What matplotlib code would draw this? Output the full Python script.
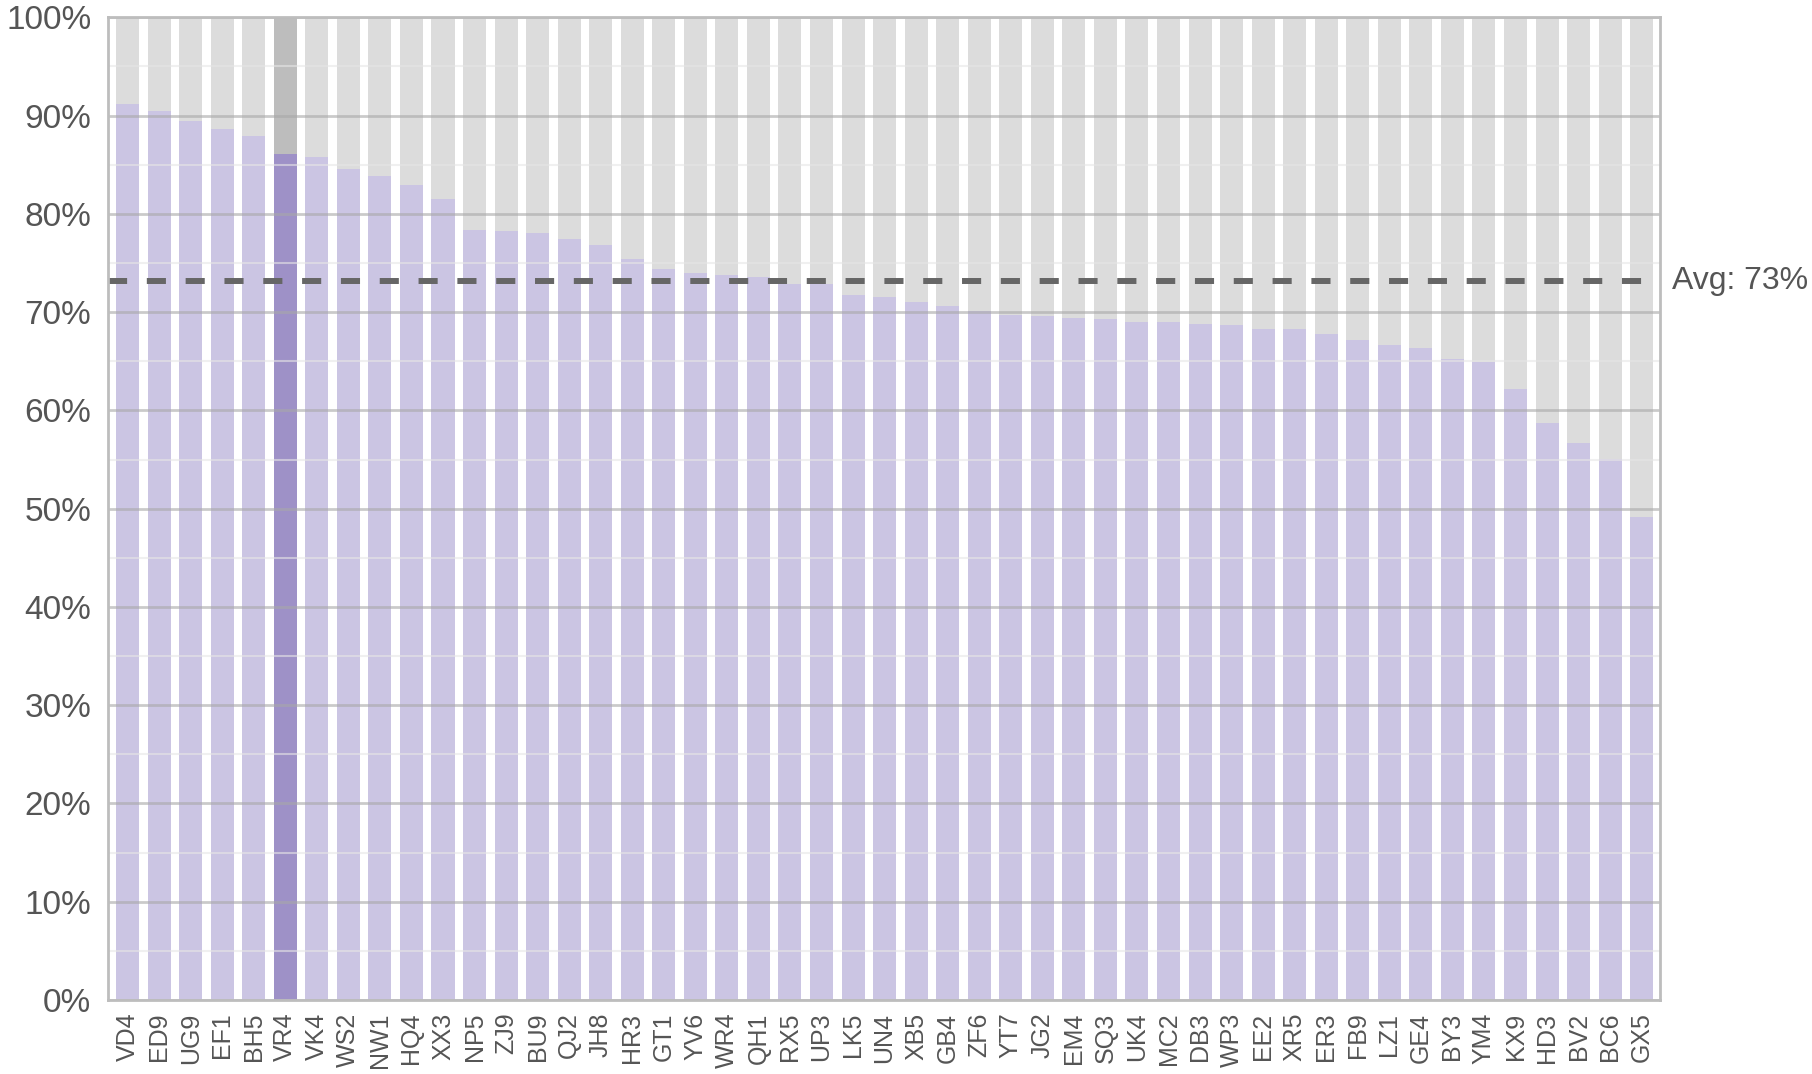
import numpy as np
import matplotlib
matplotlib.use('Agg')
import matplotlib.pyplot as plt
from matplotlib.ticker import MultipleLocator, FuncFormatter

codes = ['VD4', 'ED9', 'UG9', 'EF1', 'BH5', 'VR4', 'VK4', 'WS2', 'NW1', 'HQ4',
         'XX3', 'NP5', 'ZJ9', 'BU9', 'QJ2', 'JH8', 'HR3', 'GT1', 'YV6', 'WR4',
         'QH1', 'RX5', 'UP3', 'LK5', 'UN4', 'XB5', 'GB4', 'ZF6', 'YT7', 'JG2',
         'EM4', 'SQ3', 'UK4', 'MC2', 'DB3', 'WP3', 'EE2', 'XR5', 'ER3', 'FB9',
         'LZ1', 'GE4', 'BY3', 'YM4', 'KX9', 'HD3', 'BV2', 'BC6', 'GX5']
values = [91.2, 90.5, 89.45, 88.6, 87.9, 86.1, 85.8, 84.6, 83.9, 82.9,
          81.5, 78.4, 78.3, 78.1, 77.4, 76.8, 75.4, 74.4, 74.0, 73.8,
          73.6, 72.9, 72.85, 71.7, 71.5, 71.05, 70.6, 70.1, 69.7, 69.65,
          69.35, 69.3, 69.0, 68.95, 68.75, 68.65, 68.3, 68.3, 67.8, 67.2,
          66.7, 66.35, 65.2, 64.95, 62.2, 58.7, 56.7, 55.05, 49.15]
highlight = 'VR4'

plt.rcParams['font.family'] = ['Liberation Sans', 'DejaVu Sans']

fig = plt.figure(figsize=(18.12, 10.74), dpi=100)
ax = fig.add_axes([0.0596, 0.0689, 0.8565, 0.915])

x = np.arange(len(codes))
bg = ['#bdbdbd' if c == highlight else '#dcdcdc' for c in codes]
fg = ['#9e91c7' if c == highlight else '#cbc5e3' for c in codes]
ax.bar(x, [100] * len(codes), width=0.73, color=bg, zorder=1)
ax.bar(x, values, width=0.73, color=fg, zorder=2)

# grid on top of the bars, semi-transparent
ax.yaxis.set_major_locator(MultipleLocator(10))
ax.yaxis.set_minor_locator(MultipleLocator(5))
ax.grid(axis='y', which='major', color='#a8a8a8', alpha=0.6, linewidth=2, zorder=3)
ax.grid(axis='y', which='minor', color='#e6e6e6', alpha=0.6, linewidth=1.5, zorder=3)
ax.set_axisbelow(False)

avg = np.mean(values)
ax.axhline(avg, color='#666666', linewidth=4.3, linestyle=(0, (3.2, 3.3)), zorder=4)
ax.annotate(f'Avg: {avg:.0f}%', xy=(1, avg), xycoords=('axes fraction', 'data'),
            xytext=(9, 0), textcoords='offset points', va='center', ha='left',
            fontsize=23, color='#555555', annotation_clip=False)

ax.set_xlim(-0.62, len(codes) - 0.42)
ax.set_ylim(0, 100)
ax.set_xticks(x)
ax.set_xticklabels(codes, rotation=90, va='top', ha='center')
ax.yaxis.set_major_formatter(FuncFormatter(lambda v, p: f'{v:.0f}%'))
ax.tick_params(axis='y', which='both', length=0, pad=12, labelsize=24, labelcolor='#555555')
ax.tick_params(axis='x', length=0, pad=9, labelsize=18, labelcolor='#555555')

for s in ax.spines.values():
    s.set_color('#bdbdbd')
    s.set_linewidth(2)
    s.set_zorder(5)

fig.savefig('out.png', dpi=100)
